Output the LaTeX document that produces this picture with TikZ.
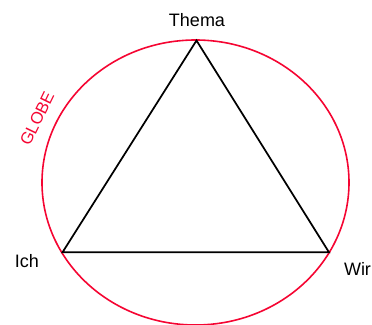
\documentclass[tikz,border=0pt]{standalone}
\usepackage{fontspec}
\setmainfont{Liberation Sans}
\definecolor{globered}{RGB}{245,5,50}
\begin{document}
\begin{tikzpicture}[x=0.75pt,y=-0.75pt,
  lbl/.style={inner sep=0pt,font=\fontsize{13.5pt}{16pt}\selectfont},
  ring/.style={draw=globered,line width=1.2pt},
  edge/.style={draw=black,line width=1.3pt,line join=miter}]
\useasboundingbox (0,0) rectangle (372,325);
\draw[ring] (195.5,182.5) ellipse [x radius=153.5,y radius=142.5];
\coordinate (t) at (196.5,40.5);
\coordinate (l) at (62.5,252.3);
\coordinate (r) at (329,252.3);
\draw[edge] (t) -- (l) -- (r) -- cycle;
\node[lbl,anchor=base] (thema) at (197,26) {Thema};
\node[lbl,anchor=base] (ich) at (27,267) {Ich};
\node[lbl,anchor=base] (wir) at (357.5,275) {Wir};
\node[lbl,text=globered,rotate=64,font=\fontsize{12.5pt}{15pt}\selectfont] (globe) at (37,118.5) {GLOBE};
\end{tikzpicture}
\end{document}
